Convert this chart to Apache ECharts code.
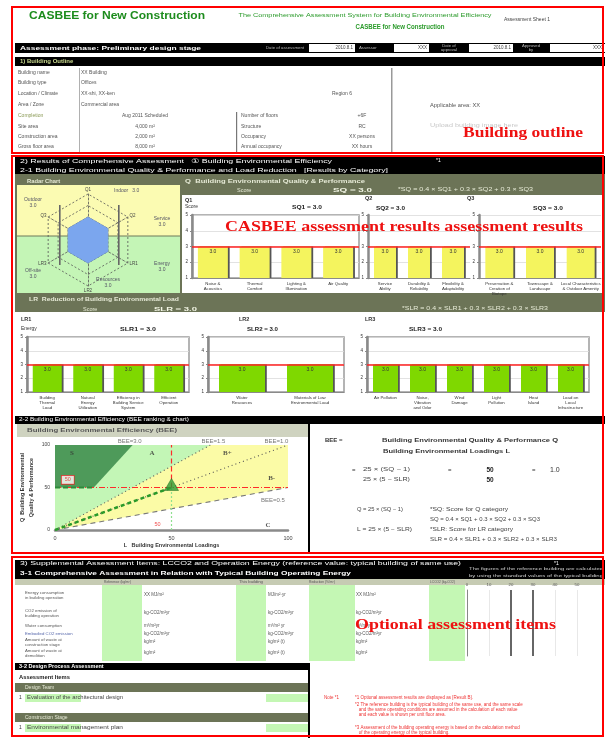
<!DOCTYPE html>
<html>
<head>
<meta charset="utf-8">
<script src="https://cdn.jsdelivr.net/npm/echarts@6/dist/echarts.min.js"></script>
<style>
html, body { margin: 0; padding: 0; background: #fff; }
#main { width: 605px; height: 738px; }
</style>
</head>
<body>
<div id="main"></div>
<script>
// ---- data ----
var radarCodes = ['Q1', 'Q3', 'LR3', 'LR2', 'LR1', 'Q2'];
var radarNames = ['Indoor', 'Outdoor', 'Off-site', 'Resources', 'Energy', 'Service'];
var radarValues = [3.0, 3.0, 3.0, 3.0, 3.0, 3.0];

var q1Cats = ['Noise &\nAcoustics', 'Thermal\nComfort', 'Lighting &\nIllumination', 'Air Quality'];
var q1Vals = [3.0, 3.0, 3.0, 3.0];
var q2Cats = ['Service\nAbility', 'Durability &\nReliability', 'Flexibility &\nAdaptability'];
var q2Vals = [3.0, 3.0, 3.0];
var q3Cats = ['Preservation &\nCreation of\nBiotope', 'Townscape &\nLandscape', 'Local Characteristics\n& Outdoor Amenity'];
var q3Vals = [3.0, 3.0, 3.0];
var lr1Cats = ['Building\nThermal\nLoad', 'Natural\nEnergy\nUtilization', 'Efficiency in\nBuilding Service\nSystem', 'Efficient\nOperation'];
var lr1Vals = [3.0, 3.0, 3.0, 3.0];
var lr2Cats = ['Water\nResources', 'Materials of Low\nEnvironmental Load'];
var lr2Vals = [3.0, 3.0];
var lr3Cats = ['Air Pollution', 'Noise,\nVibration\nand Odor', 'Wind\nDamage', 'Light\nPollution', 'Heat\nIsland', 'Load on\nLocal\nInfrastructure'];
var lr3Vals = [3.0, 3.0, 3.0, 3.0, 3.0, 3.0];

var scoreMin = 1, scoreMax = 5, scoreRef = 3;
var sq = 3.0, sq1 = 3.0, sq2 = 3.0, sq3 = 3.0;
var slr = 3.0, slr1 = 3.0, slr2 = 3.0, slr3 = 3.0;

var beeBounds = [3.0, 1.5, 1.0, 0.5];
var beeQ = 50, beeL = 50, beeValue = 1.0;

var lcco2Cats = ['Reference', 'This building'];
var lcco2Marks = [20, 30];

var SANS = "'Liberation Sans', Arial, sans-serif";
var SERIF = "'Liberation Serif', 'Times New Roman', serif";
var OLIVE = '#6c7457';

var mctx = document.createElement('canvas').getContext('2d');
function fit(text, font, w) {
  mctx.font = font;
  var m = 0;
  text.split('\n').forEach(function (l) { m = Math.max(m, mctx.measureText(l).width); });
  return w / m;
}

var els = [];
function R(x, y, w, h, fill, stroke, z, lw) {
  els.push({ type: 'rect', silent: true, z: z === undefined ? -1 : z,
    shape: { x: x, y: y, width: w, height: h },
    style: { fill: fill || 'none', stroke: stroke || null, lineWidth: lw || 1 } });
}
function T(x, y, text, size, color, o) {
  o = o || {};
  var font = (o.bold ? 'bold ' : '') + size + 'px ' + (o.family || SANS);
  els.push({ type: 'text', silent: true, z: o.z || 20, x: x, y: y,
    scaleX: o.w ? fit(text, font, o.w) : 1,
    style: { text: text, fill: color, font: font,
      textAlign: o.align || 'left', align: o.align || 'left',
      textVerticalAlign: 'middle', verticalAlign: 'middle',
      lineHeight: o.lh || size * 1.15 } });
}

// ===== 1) building outline =====
T(29, 16, 'CASBEE for New Construction', 10.5, '#1d8c1d', { bold: true, w: 176 });
T(365, 15, 'The Comprehensive Assessment System for Building Environmental Efficiency', 6, '#2a9a2a', { align: 'center', w: 253 });
T(400, 27, 'CASBEE for New Construction', 6.5, '#2a9a2a', { align: 'center', bold: true, w: 89 });
T(504, 19, 'Assessment Sheet 1', 5.5, '#444', { w: 46 });

R(15, 43, 590, 10, '#000');
T(20, 48, 'Assessment phase: Preliminary design stage', 6, '#fff', { bold: true, w: 181 });
T(266, 48, 'Date of assessment', 4.3, '#bbb');
R(309, 44, 46, 8, '#fff'); T(353, 48, '2010.8.1', 4.5, '#444', { align: 'right' });
T(359, 48, 'Assessor', 4.3, '#bbb');
R(394, 44, 35, 8, '#fff'); T(427, 48, 'XXX', 4.5, '#444', { align: 'right' });
T(449, 48, 'Date of\napproval', 4.2, '#bbb', { align: 'center', lh: 4.5 });
R(469, 44, 44, 8, '#fff'); T(511, 48, '2010.8.1', 4.5, '#444', { align: 'right' });
T(531, 48, 'Approved\nby', 4.2, '#bbb', { align: 'center', lh: 4.5 });
R(550, 44, 55, 8, '#fff'); T(602, 48, 'XXX', 4.5, '#444', { align: 'right' });

R(15, 57, 590, 9, '#000');
T(20, 61.5, '1) Building Outline', 6, '#c8d98e', { bold: true });

var rowY = [73, 83, 94, 105, 116, 127, 137, 147];
var rowLab = ['Building name', 'Building type', 'Location / Climate', 'Area / Zone', 'Completion', 'Site area', 'Construction area', 'Gross floor area'];
var rowVal = ['XX Building', 'Offices', 'XX-shi, XX-ken', 'Commercial area', 'Aug 2011 Scheduled', '4,000 m\u00b2', '2,000 m\u00b2', '8,000 m\u00b2'];
rowY.forEach(function (y, i) {
  T(18, y, rowLab[i], 5, i === 4 ? '#8a9a55' : '#555');
  if (i < 4) T(81, y, rowVal[i], 5, '#555');
  else T(145, y, rowVal[i], 5, '#555', { align: 'center' });
});
T(332, 94, 'Region 6', 5, '#555');
var rtLab = ['Number of floors', 'Structure', 'Occupancy', 'Annual occupancy'];
var rtVal = ['+6F', 'RC', 'XX persons', 'XX hours'];
rtLab.forEach(function (l, i) {
  T(241, rowY[4 + i], l, 5, '#555');
  T(362, rowY[4 + i], rtVal[i], 5, '#555', { align: 'center' });
});
R(79, 68, 1, 85, '#b0b0b0', null, 0);
R(236, 112, 1.2, 41, '#777', null, 0);
R(391, 68, 1.5, 85, '#999', null, 0);
T(430, 105, 'Applicable area: XX', 5.5, '#555', { w: 50 });
T(430, 125, 'Upload building image here', 5.5, '#c8c8c8', { w: 88 });
T(463, 133, 'Building outline', 14, '#ee1111', { bold: true, family: SERIF, w: 120, z: 60 });

// ===== 2) comprehensive assessment =====
R(15, 156, 590, 18, '#000');
T(20, 161, '2) Results of Comprehensive Assessment   \u2460 Building Environmental Efficiency', 5.5, '#fff', { w: 312 });
T(436, 161, '*1', 5, '#fff');
T(20, 170, '2-1 Building Environmental Quality & Performance and Load Reduction   [Results by Category]', 5.5, '#fff', { w: 368 });
R(15, 174, 590, 121, OLIVE);
T(27, 181, 'Radar Chart', 5.8, '#e6ead6', { bold: true });
T(185, 181, 'Q  Building Environmental Quality & Performance', 5.8, '#e6ead6', { bold: true, w: 180 });
T(237, 190, 'Score', 5.5, '#e6ead6');
T(333, 190, 'SQ = ' + sq.toFixed(1), 6, '#f2f5e4', { bold: true, w: 39 });
T(398, 190, '*SQ = 0.4 \u00d7 SQ1 + 0.3 \u00d7 SQ2 + 0.3 \u00d7 SQ3', 5.2, '#e6ead6', { w: 135 });
R(17, 185, 163, 51, '#fbfbb2');
R(17, 236, 163, 57, '#c4f5b6');
R(17, 235.5, 163, 1, '#6f7a5a', null, 0);
R(182, 195, 421, 98, '#fff');
R(59, 205, 1.6, 60, '#666', null, 1);
R(118, 205, 1.6, 60, '#666', null, 1);

var radarLabPos = [[114, 191, 'left'], [33, 203, 'center'], [33, 274, 'center'], [108, 283, 'center'], [162, 267, 'center'], [162, 222, 'center']];
radarNames.forEach(function (n, i) {
  var p = radarLabPos[i];
  var txt = i === 0 ? n + '   ' + radarValues[i].toFixed(1) : n + '\n' + radarValues[i].toFixed(1);
  T(p[0], p[1], txt, 5, '#556', { align: p[2], lh: 6 });
});

T(185, 200, 'Q1', 5.5, '#333', { bold: true });
T(185, 207, 'Score', 5, '#333');
T(292, 207, 'SQ1 = ' + sq1.toFixed(1), 5.5, '#222', { bold: true, w: 30 });
T(365, 198, 'Q2', 5.5, '#333', { bold: true });
T(376, 208, 'SQ2 = ' + sq2.toFixed(1), 5.5, '#222', { bold: true, w: 29 });
T(467, 198, 'Q3', 5.5, '#333', { bold: true });
T(533, 208, 'SQ3 = ' + sq3.toFixed(1), 5.5, '#222', { bold: true, w: 30 });

R(15, 293, 590, 19, OLIVE);
T(29, 299, 'LR  Reduction of Building Environmental Load', 5.8, '#e6ead6', { bold: true, w: 150 });
T(83, 309, 'Score', 5.5, '#e6ead6');
T(154, 309, 'SLR = ' + slr.toFixed(1), 6, '#f2f5e4', { bold: true, w: 43 });
T(402, 309, '*SLR = 0.4 \u00d7 SLR1 + 0.3 \u00d7 SLR2 + 0.3 \u00d7 SLR3', 5.2, '#e6ead6', { w: 146 });
R(15, 312, 590, 104, '#fff');
T(21, 319, 'LR1', 5.5, '#333', { bold: true });
T(21, 329, 'Energy', 5, '#333');
T(120, 329, 'SLR1 = ' + slr1.toFixed(1), 5.5, '#222', { bold: true, w: 36 });
T(239, 319, 'LR2', 5.5, '#333', { bold: true });
T(247, 329, 'SLR2 = ' + slr2.toFixed(1), 5.5, '#222', { bold: true, w: 31 });
T(365, 319, 'LR3', 5.5, '#333', { bold: true });
T(409, 329, 'SLR3 = ' + slr3.toFixed(1), 5.5, '#222', { bold: true, w: 33 });

R(15, 416, 590, 8, '#000');
T(19, 420, '2-2 Building Environmental Efficiency (BEE ranking & chart)', 5.2, '#fff', { w: 170 });
R(17, 424, 291, 13, '#cfd3c0');
T(27, 430, 'Building Environmental Efficiency (BEE)', 5.5, '#555', { bold: true, w: 150 });
R(308, 424, 2, 130, '#000', null, 0);

T(325, 440, 'BEE =', 6, '#333', { bold: true });
T(382, 440, 'Building Environmental Quality & Performance Q', 5.5, '#333', { bold: true, w: 176 });
T(383, 451, 'Building Environmental Loadings L', 5.5, '#333', { bold: true, w: 127 });
T(352, 470, '=', 6, '#333');
T(363, 470, '25 \u00d7 (SQ \u2212 1)', 5.2, '#444', { w: 47 });
T(363, 480, '25 \u00d7 (5 \u2212 SLR)', 5.2, '#444', { w: 47 });
T(448, 470, '=', 6, '#333');
T(490, 470, String(beeQ), 6.5, '#222', { bold: true, align: 'center' });
T(490, 480, String(beeL), 6.5, '#222', { bold: true, align: 'center' });
T(532, 470, '=', 6, '#333');
T(550, 470, beeValue.toFixed(1), 7, '#333');
T(357, 510, 'Q = 25 \u00d7 (SQ \u2212 1)', 5, '#444', { w: 46 });
T(430, 510, '*SQ: Score for Q category', 5, '#444', { w: 78 });
T(430, 520, 'SQ = 0.4 \u00d7 SQ1 + 0.3 \u00d7 SQ2 + 0.3 \u00d7 SQ3', 5, '#444', { w: 110 });
T(357, 530, 'L = 25 \u00d7 (5 \u2212 SLR)', 5, '#444', { w: 55 });
T(430, 530, '*SLR: Score for LR category', 5, '#444', { w: 83 });
T(430, 540, 'SLR = 0.4 \u00d7 SLR1 + 0.3 \u00d7 SLR2 + 0.3 \u00d7 SLR3', 5, '#444', { w: 127 });
T(225, 227, 'CASBEE assessment results assessment results', 14, '#ee1111', { bold: true, family: SERIF, w: 358, z: 60 });

// ===== 3) optional items =====
R(15, 560, 590, 19, '#000');
T(20, 564, '3) Supplemental Assessment Items: LCCO2 and Operation Energy (reference value: typical building of same use)', 5.2, '#fff', { w: 441 });
T(554, 564, '*1', 5, '#fff');
T(20, 573.5, '3-1 Comprehensive Assessment in Relation with Typical Building Operating Energy', 5.5, '#fff', { bold: true, w: 331 });
T(469, 569, 'The figures of the reference building are calculated', 3.8, '#ccc', { w: 134 });
T(469, 576, 'by using the standard values of the typical building', 3.8, '#ccc', { w: 134 });
R(15, 579, 590, 6, '#c6cbb3');
T(104, 582, 'Reference (kg/m\u00b2)', 3.8, '#555', { w: 27 });
T(239, 582, 'This building', 3.8, '#555', { w: 24 });
T(309, 582, 'Reduction (%/m\u00b2)', 3.8, '#555', { w: 26 });
T(430, 582, 'LCCO2 (kg-CO2)', 3.8, '#555', { w: 25 });
R(102, 585, 40, 76, '#c4f7b4');
R(236, 585, 30, 76, '#c4f7b4');
R(309, 585, 46, 76, '#c4f7b4');
R(429, 585, 36, 76, '#c4f7b4');
var optY = [595, 613, 626, 634, 642, 653];
var optLab = ['Energy consumption\nin building operation', 'CO2 emission of\nbuilding operation', 'Water consumption', 'Embodied CO2 emission', 'Amount of waste at\nconstruction stage', 'Amount of waste at\ndemolition'];
var optV1 = ['XX MJ/m\u00b2', 'kg-CO2/m\u00b2yr', 'm\u00b3/m\u00b2yr', 'kg-CO2/m\u00b2yr', 'kg/m\u00b2', 'kg/m\u00b2'];
var optV2 = ['MJ/m\u00b2\u00b7yr', 'kg-CO2/m\u00b2yr', 'm\u00b3/m\u00b2 yr', 'kg-CO2/m\u00b2yr', 'kg/m\u00b2 (t)', 'kg/m\u00b2 (t)'];
optY.forEach(function (y, i) {
  T(25, y, optLab[i], 4.3, i === 3 ? '#5566aa' : '#555', { lh: 5 });
  T(144, y, optV1[i], 4.5, '#555');
  T(268, y, optV2[i], 4.5, '#555');
  T(356, y, optV1[i], 4.5, '#555');
});
R(15, 663, 294, 7, '#000');
T(19, 666.5, '3-2 Design Process Assessment', 5.5, '#fff', { bold: true });
T(19, 677, 'Assessment Items', 5.8, '#222', { bold: true });
R(15, 683, 294, 9, OLIVE);
T(25, 687.5, 'Design Team', 5, '#e6ead6');
R(25, 694, 56, 8, '#c4f7b4'); R(266, 694, 43, 8, '#c4f7b4');
T(19, 698, '1', 5, '#333');
T(27, 698, 'Evaluation of the architectural design', 5, '#444', { w: 96 });
R(15, 713, 294, 9, OLIVE);
T(25, 717.5, 'Construction Stage', 5, '#e6ead6');
R(25, 724, 56, 8, '#c4f7b4'); R(266, 724, 43, 8, '#c4f7b4');
T(19, 728, '1', 5, '#333');
T(27, 728, 'Environmental management plan', 5, '#444', { w: 96 });
R(308, 663, 2, 75, '#000', null, 0);
T(324, 698, 'Note *1', 4.5, '#ee3333');
var notes = [
  [698, '*1 Optional assessment results are displayed as [Result B].'],
  [705, '*2 The reference building is the typical building of the same use, and the same scale'],
  [710, '   and the same operating conditions are assumed in the calculation of each value'],
  [715, '   and each value is shown per unit floor area.'],
  [728, '*3 Assessment of the building operating energy is based on the calculation method'],
  [733, '   of the operating energy of the typical building.']
];
notes.forEach(function (n) {
  T(355, n[0], n[1], 4.5, '#ee3333');
});
T(355, 625, 'Optional assessment items', 14, '#ee1111', { bold: true, family: SERIF, w: 201, z: 60 });

// red annotation frames
R(12, 7, 591, 146, null, '#ff0000', 100, 2);
R(12, 156, 591, 397, null, '#ff0000', 100, 2);
R(12, 557, 591, 179, null, '#ff0000', 100, 2);

// ===== charts =====
var grids = [], xAxes = [], yAxes = [], series = [];
function barBlock(box, cats, vals, color, bw, framed) {
  var idx = grids.length;
  grids.push({ left: box[0], top: box[1], width: box[2], height: box[3], show: framed,
    borderColor: '#9c9c9c', borderWidth: 1.5, backgroundColor: 'rgba(0,0,0,0)' });
  xAxes.push({ gridIndex: idx, type: 'category', data: cats,
    axisTick: { show: false }, axisLine: { lineStyle: { color: '#8a8a8a', width: 1 } },
    axisLabel: { interval: 0, fontSize: 4.3, lineHeight: 5, color: '#333', margin: 3, fontFamily: SANS } });
  yAxes.push({ gridIndex: idx, type: 'value', min: scoreMin, max: scoreMax, interval: 1,
    axisLine: { show: true, lineStyle: { color: '#8a8a8a', width: 2.5 } },
    axisTick: { show: true, length: 2, lineStyle: { color: '#888' } },
    axisLabel: { fontSize: 4.5, color: '#333', margin: 4 },
    splitLine: { lineStyle: { color: '#dadada', width: 0.8 } } });
  series.push({ type: 'bar', xAxisIndex: idx, yAxisIndex: idx, data: vals, barWidth: bw,
    itemStyle: { color: color, shadowColor: '#555', shadowOffsetX: 1.8, shadowBlur: 0 },
    label: { show: true, position: 'insideTop', distance: 3, fontSize: 5, color: '#333',
      formatter: function (p) { return p.value.toFixed(1); } },
    markLine: { symbol: 'none', silent: true, label: { show: false },
      lineStyle: { color: '#ff2020', width: 1.5, type: 'solid' }, data: [{ yAxis: scoreRef }] } });
}
barBlock([192, 215, 167, 63], q1Cats, q1Vals, '#f4f45e', 30, true);
barBlock([368, 215, 102, 63], q2Cats, q2Vals, '#f4f45e', 22, false);
barBlock([479, 215, 122, 63], q3Cats, q3Vals, '#f4f45e', 28, false);
barBlock([27, 337, 162, 55], lr1Cats, lr1Vals, '#7fd800', 29, true);
barBlock([208, 337, 136, 55], lr2Cats, lr2Vals, '#7fd800', 46, true);
barBlock([367, 337, 222, 55], lr3Cats, lr3Vals, '#7fd800', 25, true);

// BEE chart
var bi = grids.length;
grids.push({ left: 55, top: 445, width: 233, height: 85 });
xAxes.push({ gridIndex: bi, type: 'value', min: 0, max: 100, interval: 50,
  axisLine: { lineStyle: { color: '#8a8a8a', width: 2.5 } }, axisTick: { show: false },
  axisLabel: { fontSize: 5.5, color: '#444', margin: 5 }, splitLine: { show: false },
  name: 'L   Building Environmental Loadings', nameLocation: 'middle', nameGap: 12,
  nameTextStyle: { fontSize: 5.5, fontWeight: 'bold', color: '#333' } });
yAxes.push({ gridIndex: bi, type: 'value', min: 0, max: 100, interval: 50,
  axisLine: { show: false }, axisTick: { show: false },
  axisLabel: { fontSize: 5, color: '#444', margin: 5 }, splitLine: { show: false },
  name: 'Q  Building Environmental\nQuality & Performance', nameLocation: 'middle', nameGap: 19, nameRotate: 90,
  nameTextStyle: { fontSize: 5.5, fontWeight: 'bold', color: '#333', lineHeight: 9 } });

var regions = [
  { color: '#fbfba6', pts: [[0, 0], [100, 100 * beeBounds[3]], [100, 100], [0, 100]] },
  { color: '#c3f6b6', pts: [[0, 0], [100 / beeBounds[1], 100], [0, 100]] },
  { color: '#4e9a5a', pts: [[0, 50], [50 / beeBounds[0], 50], [100 / beeBounds[0], 100], [0, 100]] }
];
series.push({ type: 'custom', xAxisIndex: bi, yAxisIndex: bi, silent: true, z: 1,
  data: regions.map(function () { return [0, 0]; }),
  renderItem: function (params, api) {
    var r = regions[params.dataIndex];
    return { type: 'polygon', shape: { points: r.pts.map(function (p) { return api.coord(p); }) },
      style: { fill: r.color } };
  } });
function seg(a, b, color, width, type) {
  series.push({ type: 'line', xAxisIndex: bi, yAxisIndex: bi, data: [a, b], symbol: 'none', silent: true, z: 3,
    lineStyle: { color: color, width: width, type: type } });
}
seg([0, 0], [100 / beeBounds[1], 100], '#555', 1.1, [1, 3]);
seg([0, 0], [100, 100 * beeBounds[2]], '#555', 1.1, [1, 3]);
seg([0, 0], [100, 100 * beeBounds[3]], '#777', 1.1, [5, 4]);
seg([0, beeQ], [100, beeQ], '#ff2a2a', 1.2, [6, 2, 1, 2]);
seg([beeL, beeQ], [beeL, 100], '#ff2a2a', 1.2, [5, 3]);
seg([beeL, 0], [beeL, beeQ], '#8fe08f', 1.2, [2, 2]);
seg([0, 50], [50 / beeBounds[0], 50], '#2e8b3a', 2.2, [5, 3]);
seg([0, 0], [beeL, beeQ], '#2a9a2a', 2.5, [4, 3]);
series.push({ type: 'scatter', xAxisIndex: bi, yAxisIndex: bi, z: 5, silent: true,
  data: [[beeL, beeQ]], symbol: 'triangle', symbolSize: [14, 12], symbolOffset: [0, -3],
  itemStyle: { color: '#2d9a35', borderColor: '#1c6b22', borderWidth: 0.6 } });
var labelSeries = { type: 'scatter', xAxisIndex: bi, yAxisIndex: bi, z: 6, silent: true, symbolSize: 0.1, clip: false,
  itemStyle: { color: 'rgba(0,0,0,0)' } };
series.push(Object.assign({}, labelSeries, {
  label: { show: true, position: 'inside', formatter: '{b}', fontSize: 7, fontWeight: 'bold', color: '#333', fontFamily: SERIF },
  data: [
    { name: 'S', value: [7.3, 90.6] }, { name: 'A', value: [41.6, 90.6] },
    { name: 'B+', value: [74, 90.6] }, { name: 'B-', value: [93, 61] }, { name: 'C', value: [91.4, 6] }
  ] }));
series.push(Object.assign({}, labelSeries, {
  label: { show: true, position: 'inside', formatter: '{b}', fontSize: 6, color: '#555' },
  data: [
    { name: 'BEE=' + beeBounds[0].toFixed(1), value: [32, 104] },
    { name: 'BEE=' + beeBounds[1].toFixed(1), value: [68, 104] },
    { name: 'BEE=' + beeBounds[2].toFixed(1), value: [95, 104] },
    { name: 'BEE=' + beeBounds[3].toFixed(1), value: [93.5, 35] }
  ] }));
series.push(Object.assign({}, labelSeries, {
  label: { show: true, position: 'inside', formatter: '{b}', fontSize: 5.5, color: '#ee2222' },
  data: [
    { name: String(beeQ), value: [5.5, 59], label: { backgroundColor: '#fff', borderColor: '#ee2222', borderWidth: 0.8, padding: [1, 3] } },
    { name: String(beeL), value: [44, 6] }
  ] }));

// LCCO2 chart
var li = grids.length;
grids.push({ left: 467, top: 590, width: 110, height: 66 });
xAxes.push({ gridIndex: li, type: 'value', min: 0, max: 50, interval: 10, position: 'bottom',
  axisLine: { lineStyle: { color: '#777', width: 1.5 } }, axisTick: { show: false }, axisLabel: { show: false },
  splitLine: { lineStyle: { color: '#e2e2e2', width: 0.8 } } });
xAxes.push({ gridIndex: li, type: 'value', min: 0, max: 50, interval: 10, position: 'top',
  axisLine: { show: false }, axisTick: { show: false }, splitLine: { show: false },
  axisLabel: { fontSize: 4.3, color: '#555', margin: 3 } });
yAxes.push({ gridIndex: li, type: 'category', data: lcco2Cats,
  axisLine: { lineStyle: { color: '#888', width: 1 } }, axisTick: { length: 1.5 }, axisLabel: { show: false } });
series.push({ type: 'line', xAxisIndex: xAxes.length - 2, yAxisIndex: yAxes.length - 1, data: [], silent: true,
  markLine: { symbol: 'none', silent: true, label: { show: false },
    lineStyle: { color: '#666', width: 2, type: 'solid' },
    data: lcco2Marks.map(function (v) { return { xAxis: v }; }) } });

// radar
series.push({ type: 'radar', radarIndex: 0, silent: true, symbol: 'none', z: 3,
  data: [{ value: radarValues }],
  lineStyle: { color: '#5d82c4', width: 0.8 },
  areaStyle: { color: '#7ba6ee', opacity: 1 } });

var chart = echarts.init(document.getElementById('main'), null, { renderer: 'canvas' });
chart.setOption({
  backgroundColor: '#fff',
  animation: false,
  textStyle: { fontFamily: SANS },
  grid: grids,
  xAxis: xAxes,
  yAxis: yAxes,
  radar: {
    center: [88, 240], radius: 46, startAngle: 90, splitNumber: 4, shape: 'polygon',
    indicator: radarCodes.map(function (c) { return { name: c, min: scoreMin, max: scoreMax }; }),
    axisName: { fontSize: 4.5, color: '#444' }, nameGap: 2,
    splitLine: { lineStyle: { color: '#555', type: [2, 2], width: 0.8 } },
    splitArea: { show: false },
    axisLine: { lineStyle: { color: '#555', type: [2, 2], width: 0.8 } }
  },
  series: series,
  graphic: { elements: els }
});
</script>
</body>
</html>
